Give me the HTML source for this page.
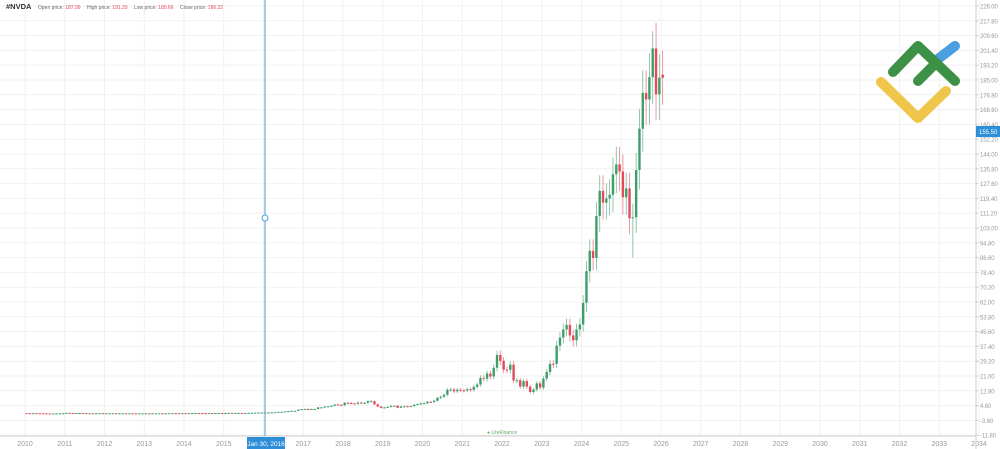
<!DOCTYPE html>
<html><head><meta charset="utf-8"><style>
body{margin:0;background:#fff;width:1000px;height:449px;overflow:hidden;font-family:"Liberation Sans",sans-serif}
svg{display:block}
</style></head><body>
<svg id="s" width="1000" height="449" xmlns="http://www.w3.org/2000/svg" font-family="Liberation Sans, sans-serif"></svg>
<script>
const s=document.getElementById('s');
let h='';
const Y=v=>302-(v-62)*1.805;
const X=t=>25+(t-2010)*39.75;
for(let i=0;i<=29;i++){const v=226-8.2*i;const y=Y(v);h+=`<line x1="0" x2="976" y1="${y}" y2="${y}" stroke="#f1f1f1"/>`;
 h+=`<line x1="976" x2="979" y1="${y}" y2="${y}" stroke="#ccc"/><text x="980" y="${y+2.5}" font-size="6" letter-spacing="-0.1" fill="#999">${v.toFixed(2)}</text>`;}
for(let yr=2010;yr<=2034;yr++){const x=X(yr);h+=`<line x1="${x}" x2="${x}" y1="0" y2="436" stroke="#f1f1f1"/><text x="${x}" y="446" font-size="7" fill="#999" text-anchor="middle">${yr}</text>`;}
h+=`<line x1="976" x2="976" y1="0" y2="449" stroke="#ccc"/><line x1="0" x2="976" y1="436" y2="436" stroke="#ccc"/>`;
const c=[.43,.40,.44,.39,.33,.26,.25,.22,.27,.30,.32,.38,.57,.50,.46,.50,.50,.40,.35,.35,.31,.36,.39,.35,.37,.38,.38,.32,.33,.34,.30,.34,.33,.30,.30,.31,.32,.31,.32,.36,.36,.35,.36,.37,.39,.38,.36,.40,.39,.45,.46,.48,.47,.46,.44,.48,.46,.46,.52,.50,.51,.58,.52,.55,.55,.50,.50,.56,.61,.71,.79,.82,.73,.77,.89,.89,1.17,1.17,1.43,1.53,1.71,1.72,2.38,2.67,2.73,2.53,2.72,2.72,3.60,3.61,4.06,4.20,4.47,5.17,5.01,4.84,6.15,6.07,5.79,5.62,6.30,5.92,6.12,7.02,7.03,5.27,4.09,3.34,3.59,3.86,4.49,4.52,3.38,4.11,4.22,4.18,4.35,5.03,5.42,5.88,5.91,6.74,6.59,7.31,8.88,9.50,10.61,13.38,13.53,12.54,13.40,13.06,12.99,13.71,13.35,15.01,16.27,20.00,19.50,22.36,20.71,25.56,32.67,29.41,24.49,24.39,27.29,18.54,18.67,15.16,18.17,15.09,12.14,13.50,16.92,14.61,19.52,23.21,27.78,27.75,37.83,42.30,46.72,49.35,43.50,40.78,46.77,49.52,61.53,79.11,90.36,86.40,109.63,123.54,117.02,119.37,121.44,132.76,138.25,134.29,120.07,124.92,108.38,108.92,135.13,157.99,177.87,174.18,186.58,202.49,177.00,186.22,186.22];
let o=0.45;
c.forEach((cl,i)=>{const t=2010+i/12+1/24;const x=X(t);let op=i==c.length-1?187.99:o;
 let hi=Math.max(op,cl)*1.07,lo=Math.min(op,cl)*0.92;
 if(i==189)hi=212; if(i==183)lo=86.6; if(i==153)lo=10.8;
 const up=cl>=op;const col=up?'#3d9e6c':'#e24b5c';
 const y1=Y(Math.max(op,cl)),y2=Y(Math.min(op,cl));
 h+=`<line x1="${x}" x2="${x}" y1="${Y(hi)}" y2="${Y(lo)}" stroke="${col}" stroke-width="0.8" opacity="0.7"/>`;
 h+=`<rect x="${x-1.2}" y="${y1}" width="2.4" height="${Math.max(1,y2-y1)}" fill="${col}"/>`;
 o=cl;});
h+=`<line x1="265" x2="265" y1="0" y2="436" stroke="#4a9fd8"/><circle cx="265" cy="218" r="3" fill="#fff" stroke="#4a9fd8"/>`;
h+=`<rect x="247" y="437" width="38" height="12" fill="#2e8fd8"/><text x="266" y="446" font-size="6.5" fill="#fff" text-anchor="middle">Jan 30, 2016</text>`;
h+=`<rect x="976" y="126" width="24" height="11" fill="#2e8fd8"/><text x="979" y="134" font-size="6" fill="#fff">155.50</text>`;
h+=`<text x="6" y="9" font-size="7.5" font-weight="bold" fill="#333">#NVDA</text>
<text x="38" y="9" font-size="5" fill="#666">Open price: <tspan fill="#e24b5c">187.99</tspan></text>
<text x="87" y="9" font-size="5" fill="#666">High price: <tspan fill="#e24b5c">191.33</tspan></text>
<text x="134" y="9" font-size="5" fill="#666">Low price: <tspan fill="#e24b5c">180.66</tspan></text>
<text x="180" y="9" font-size="5" fill="#666">Close price: <tspan fill="#e24b5c">186.22</tspan></text>`;
h+=`<g stroke-linecap="round" stroke-linejoin="round" fill="none" stroke-width="10">
<path d="M881 82 L918 118 L946 91" stroke="#f0c64a"/>
<path d="M955 46 L938 59" stroke="#4a9fe0"/>
<path d="M893 72 L918 46 L955 81" stroke="#3d9146"/>
<path d="M918 81 L936 63" stroke="#3d9146"/></g>`;
h+=`<text x="487" y="434" font-size="5" fill="#6a6">● LiteFinance</text>`;
s.innerHTML=h;
</script>
</body></html>
